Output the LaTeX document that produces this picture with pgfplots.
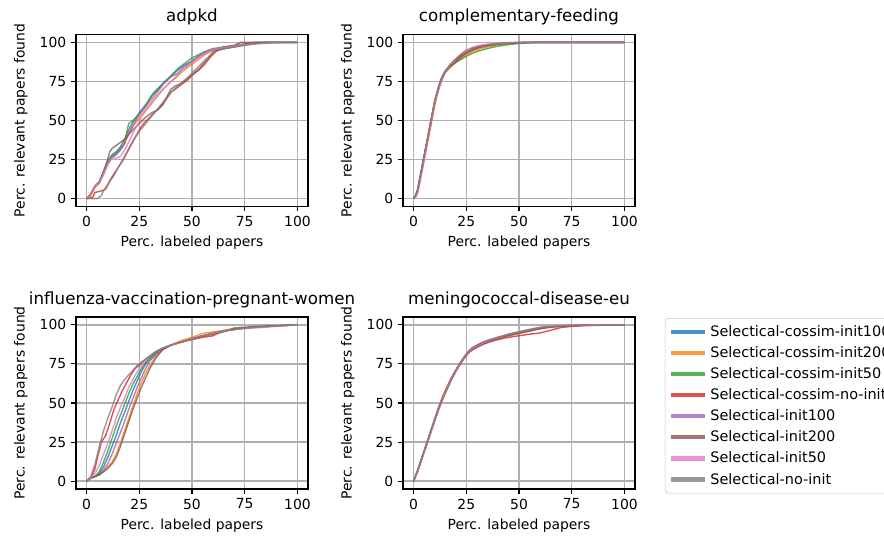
\documentclass[border=0pt]{standalone}
\usepackage{pgfplots}
\pgfplotsset{compat=1.18}
\usepackage{fontspec}
\setmainfont{DejaVu Sans}
\definecolor{c1}{HTML}{1F77B4}
\definecolor{c2}{HTML}{FF7F0E}
\definecolor{c3}{HTML}{2CA02C}
\definecolor{c4}{HTML}{D62728}
\definecolor{c5}{HTML}{9467BD}
\definecolor{c6}{HTML}{8C564B}
\definecolor{c7}{HTML}{E377C2}
\definecolor{c8}{HTML}{7F7F7F}
\definecolor{gridc}{HTML}{B0B0B0}
\pgfplotsset{
  myax/.style={
    scale only axis, width=167.04pt, height=123.84pt,
    anchor=south west,
    xmin=-5, xmax=105, ymin=-5, ymax=105,
    xtick={0,25,50,75,100}, ytick={0,25,50,75,100},
    tick align=outside, tick pos=left, major tick length=3.5pt,
    tick style={black, line width=0.8pt},
    axis line style={black, line width=1.1pt},
    grid=major, grid style={gridc, line width=1pt},
    /pgf/number format/assume math mode=true,
    ticklabel style={font=\fontsize{10}{12}\selectfont},
    xlabel={Perc. labeled papers}, ylabel={Perc. relevant papers found},
    label style={font=\fontsize{10}{12}\selectfont},
    ylabel style={yshift=2pt},
    title style={font=\fontsize{12}{14}\selectfont, yshift=-3pt},
    every axis plot/.append style={line width=1pt, draw opacity=0.8},
    cycle list={{c1},{c2},{c3},{c4},{c5},{c6},{c7},{c8}},
  }
}
\begin{document}
\begin{tikzpicture}
% ---------------- adpkd
\begin{axis}[myax, at={(54.72pt,241.56pt)}, title={adpkd}]
\addplot coordinates {(0,0)(2,3)(4,8)(6,10)(8,17)(10,24)(12,28)(14,30)(16,33)(18,38)(20,44)(22,49)(25,55)(28,60)(31,66)(34,70)(37,75)(40,78)(43,82)(46,85)(50,88)(53,91)(56,93)(60,95)(65,97)(70,97.5)(75,98.5)(80,99.5)(85,100)(100,100)};
\addplot coordinates {(0,0)(2,2)(4,7)(6,10)(8,15)(10,22)(12,27)(14,29)(16,31)(18,35)(20,41)(22,46)(25,52)(28,57)(31,62)(34,67)(37,71)(40,75)(43,78)(46,82)(50,86)(53,89)(56,92)(60,95)(65,97)(70,98)(75,99)(80,100)(100,100)};
\addplot coordinates {(0,0)(2,3)(4,8)(6,10)(8,17)(10,23)(12,27)(14,29)(16,32)(18,35)(19,42)(20,48)(22,50)(25,54)(28,59)(30,64)(32,68)(35,72)(38,76)(41,80)(44,84)(47,87)(50,90)(53,92)(56,94)(60,96)(65,97)(70,98)(75,99)(80,100)(100,100)};
\addplot coordinates {(0,0)(3,1)(4,4)(7,5)(9,6)(11,11)(13,15)(15,20)(17,24)(19,29)(21,34)(23,39)(25,44)(27,48)(30,52)(33,56)(36,60)(38,64)(40,68)(43,71)(46,74)(48,76)(50,79)(53,82)(56,86)(59,91)(62,95)(66,96)(70,97)(74,98)(77,99.5)};
\addplot coordinates {(0,0)(2,3)(4,8)(6,10)(8,16)(10,22)(12,26)(14,28)(16,31)(18,36)(20,42)(22,47)(25,54)(28,59)(31,64)(34,69)(37,74)(40,78)(43,80)(46,84)(49,87)(52,90)(55,93)(58,95)(62,96)(67,97)(72,98)(78,99)(85,100)(100,100)};
\addplot coordinates {(0,0)(2,3)(4,8)(6,11)(8,17)(10,25)(11,30)(12,32)(14,34)(16,36)(18,38)(20,41)(22,44)(25,48)(28,52)(31,55)(34,57)(36,60)(38,65)(40,70)(42,72)(45,74)(48,77)(51,80)(54,84)(57,89)(60,94)(63,96)(66,97)(70,98)(73,100)(100,100)};
\addplot coordinates {(0,0)(2,3)(4,8)(6,10)(8,16)(10,22)(12,26)(14,26)(16,27)(18,31)(20,36)(22,42)(24,47)(26,52)(28,56)(31,61)(34,66)(37,71)(40,75)(43,79)(46,83)(49,86)(52,89)(55,92)(58,94)(62,96)(67,97)(72,98)(80,99)(90,100)(100,100)};
\addplot coordinates {(0,0)(5,0)(7,2)(8,5)(10,9)(12,14)(14,18)(16,22)(18,27)(20,32)(22,37)(25,43)(28,48)(31,53)(34,58)(37,63)(40,68)(43,72)(46,75)(49,79)(52,83)(55,87)(58,91)(61,94)(65,96)(70,97)(75,98)(80,99)(85,99.5)(95,100)(100,100)};
\end{axis}
% ---------------- complementary-feeding
\begin{axis}[myax, at={(290.16pt,241.56pt)}, title={complementary-feeding}]
\addplot coordinates {(0,0)(1,2)(2,6)(3,13)(4,20)(5,27)(6,34)(7,41)(8,48)(9,55)(10,62)(11,67)(12,72)(13,76)(14,79)(15,81.5)(17,84.5)(19,87.5)(21,89.5)(23,92)(25,93.5)(28,95.5)(31,97)(35,98)(40,99)(45,99.5)(50,99.8)(60,100)(100,100)};
\addplot coordinates {(0,0)(1,1)(2,4)(3,10)(4,17)(5,24)(6,31)(7,38)(8,45)(9,52)(10,59)(11,65)(12,70)(13,74)(14,78)(15,80.5)(17,83.5)(19,86)(21,88)(23,90)(25,92)(28,94)(31,95.5)(35,97)(40,98.3)(45,99)(50,99.6)(60,100)(100,100)};
\addplot coordinates {(0,0)(1,2)(2,6)(3,13)(4,20)(5,27)(6,34)(7,41)(8,48)(9,55)(10,62)(11,67)(12,72)(13,76)(14,79)(15,81)(17,84)(19,86)(21,88)(23,89.5)(25,91)(28,93)(31,94.5)(35,96)(40,97.5)(45,98.5)(50,99.3)(60,100)(100,100)};
\addplot coordinates {(0,0)(1,2)(2,5)(3,12)(4,19)(5,26)(6,33)(7,40)(8,47)(9,54)(10,61)(11,66)(12,71)(13,75)(14,78)(15,81)(17,84)(19,86.5)(21,89)(23,91)(25,93)(28,95)(31,96.5)(35,97.8)(40,98.8)(45,99.4)(50,99.8)(60,100)(100,100)};
\addplot coordinates {(0,0)(1,2)(2,6)(3,13)(4,20)(5,27)(6,34)(7,41)(8,48)(9,55)(10,62)(11,67)(12,72)(13,76)(14,79)(15,81.5)(17,85)(19,88)(21,90.5)(23,93)(25,95)(28,96.5)(31,97.5)(35,98.5)(40,99.3)(45,99.7)(50,99.9)(60,100)(100,100)};
\addplot coordinates {(0,0)(1,2)(2,6)(3,13)(4,20)(5,27)(6,34)(7,41)(8,48)(9,55)(10,62)(11,67)(12,72)(13,76)(14,79)(15,81.5)(17,85)(19,88)(21,90)(23,92)(25,93.5)(28,95.5)(31,97)(35,98)(40,99)(45,99.6)(50,99.9)(60,100)(100,100)};
\addplot coordinates {(0,0)(1,1)(2,4)(3,11)(4,18)(5,25)(6,33)(7,40)(8,47)(9,54)(10,61)(11,66)(12,71)(13,75)(14,78)(15,81)(17,84.5)(19,87.5)(21,90.5)(23,93)(25,95)(28,96.8)(31,98)(35,98.8)(40,99.4)(45,99.8)(50,100)(60,100)(100,100)};
\addplot coordinates {(0,0)(1,2)(2,6)(3,13)(4,20)(5,27)(6,34)(7,41)(8,48)(9,55)(10,62)(11,67)(12,72)(13,76)(14,79)(15,81.5)(17,85)(19,88)(21,90.5)(23,92.5)(25,94)(28,96)(31,97.3)(35,98.3)(40,99.1)(45,99.6)(50,99.9)(60,100)(100,100)};
\end{axis}
% ---------------- influenza
\begin{axis}[myax, at={(54.72pt,38.16pt)}, title={influenza-vaccination-pregnant-women}]
\addplot coordinates {(0,0)(2,2)(4,3)(6,5)(8,9)(10,15)(12,22)(14,29)(16,37)(18,44)(20,51)(22,58)(24,64)(26,70)(28,75)(30,78)(33,82)(36,85)(40,87)(45,89)(50,91)(55,93)(60,94.5)(65,96)(70,97)(75,98)(80,98.5)(90,99.3)(100,100)};
\addplot coordinates {(0,0)(2,2)(4,3)(6,4)(8,6)(10,9)(12,12)(14,17)(16,24)(18,32)(20,40)(22,48)(24,56)(26,63)(28,69)(30,74)(33,80)(36,84)(40,87)(45,90)(50,92)(55,94.5)(60,95.5)(65,96.5)(70,97.5)(75,98)(80,98.5)(90,99.3)(100,100)};
\addplot coordinates {(0,0)(2,2)(4,3)(6,6)(8,12)(10,19)(12,27)(14,35)(16,42)(18,49)(20,56)(22,62)(24,67)(26,72)(28,76)(30,79)(33,82)(36,85)(40,87)(45,89)(50,91)(55,92.5)(60,94)(65,95.5)(70,98)(75,98.5)(80,99)(90,99.5)(100,100)};
\addplot coordinates {(0,0)(2,2)(4,8)(5,14)(7,25)(9,29)(11,37)(13,46)(15,52)(17,58)(19,63)(21,68)(23,72)(25,74)(27,77)(30,80)(33,83)(36,85)(40,87)(45,89)(50,90.5)(55,92)(60,93)(63,95)(68,97)(75,98)(85,99)(100,100)};
\addplot coordinates {(0,0)(2,2)(4,3)(6,4)(8,7)(10,11)(12,17)(14,24)(16,31)(18,38)(20,46)(22,53)(24,60)(26,66)(28,72)(30,77)(33,81)(36,84)(40,87)(45,89)(50,91)(55,93)(60,94.5)(65,96)(70,97)(75,98)(80,98.5)(90,99.3)(100,100)};
\addplot coordinates {(0,0)(2,2)(4,3)(6,4)(8,6)(10,8)(12,11)(14,15)(16,22)(18,30)(20,38)(22,46)(24,53)(26,60)(28,66)(30,72)(33,79)(36,84)(40,87)(45,89)(50,91)(55,93)(60,94.5)(65,96)(70,97)(75,98)(80,98.5)(90,99.3)(100,100)};
\addplot coordinates {(0,0)(2,2)(4,5)(6,10)(8,17)(10,24)(12,32)(14,40)(16,47)(18,53)(20,60)(22,65)(24,70)(26,74)(28,77)(30,80)(33,83)(36,85)(40,87)(45,89)(50,91)(55,93)(60,94.5)(65,96)(70,97)(75,97.5)(80,98)(90,99)(100,100)};
\addplot coordinates {(0,0)(2,3)(4,11)(6,22)(8,32)(10,40)(12,47)(14,55)(16,61)(18,65)(20,68)(22,71)(24,74)(26,76)(28,78)(30,80)(33,83)(36,85)(40,87)(45,89)(50,91)(55,93)(60,94.5)(65,96)(70,97)(75,98)(80,98.5)(90,99.3)(100,100)};
\end{axis}
% ---------------- meningococcal
\begin{axis}[myax, at={(290.16pt,38.16pt)}, title={meningococcal-disease-eu},
  legend style={at={(1.129,0.994)}, anchor=north west, draw=gridc!70, rounded corners=2pt,
    font=\fontsize{10.4}{12}\selectfont, row sep=1.8pt, inner xsep=3pt, inner ysep=3pt},
  legend cell align=left,
  legend image code/.code={\draw[line width=3pt] (0pt,0pt) -- (24.5pt,0pt);},
  legend entries={Selectical-cossim-init100,Selectical-cossim-init200,Selectical-cossim-init50,Selectical-cossim-no-init,Selectical-init100,Selectical-init200,Selectical-init50,Selectical-no-init}]
\addplot coordinates {(0,0)(2,7)(4,15)(6,23)(8,31)(10,39)(12,47)(14,54)(16,60)(18,66)(20,70.5)(22,75)(24,79)(26,82.5)(28,85)(30,86.5)(33,88.5)(36,90)(40,91.5)(45,93.5)(50,95)(55,96.5)(60,98)(65,98.7)(70,99.2)(75,99.6)(85,99.9)(100,100)};
\addplot coordinates {(0,0)(2,7)(4,15.5)(6,23.5)(8,32)(10,40)(12,48)(14,55)(16,61)(18,66)(20,70.5)(22,75)(24,79)(26,82.5)(28,85)(30,86.5)(33,88)(36,89.5)(40,91.5)(45,93)(50,94.5)(55,96)(60,97.5)(65,98.5)(70,99)(75,99.5)(85,99.9)(100,100)};
\addplot coordinates {(0,0)(2,7)(4,15)(6,23)(8,31)(10,39)(12,47)(14,54)(16,60)(18,66)(20,70.5)(22,75)(24,79)(26,82)(28,84.5)(30,86.5)(33,88.5)(36,90)(40,91.5)(45,93.5)(50,95)(55,96.5)(60,97.8)(65,98.7)(70,99.2)(75,99.6)(85,99.9)(100,100)};
\addplot coordinates {(0,0)(2,6.5)(4,14.5)(6,22.5)(8,30.5)(10,38.5)(12,46)(14,53)(16,59)(18,65)(20,70)(22,74.5)(24,78.5)(26,82)(28,84)(30,85.5)(33,87.5)(36,89)(40,90.5)(45,92)(50,93)(55,94)(60,94.8)(65,96.5)(70,98.3)(75,99)(85,99.6)(100,100)};
\addplot coordinates {(0,0)(2,7)(4,15)(6,23)(8,31)(10,39)(12,47)(14,54)(16,60)(18,66)(20,71)(22,75.5)(24,79.5)(26,83)(28,85.5)(30,87)(33,89)(36,90.5)(40,92)(45,94)(50,95.5)(55,97)(60,98.3)(65,99)(70,99.4)(75,99.7)(85,99.9)(100,100)};
\addplot coordinates {(0,0)(2,7)(4,15)(6,23)(8,31)(10,39)(12,47)(14,54)(16,60)(18,66)(20,70.5)(22,75)(24,79)(26,82.5)(28,84.5)(30,86)(33,88)(36,89.5)(40,91.5)(45,93)(50,94.5)(55,96)(60,97.5)(65,98.5)(70,99)(75,99.5)(85,99.9)(100,100)};
\addplot coordinates {(0,0)(2,6.5)(4,14.5)(6,22.5)(8,30.5)(10,38.5)(12,46.5)(14,53.5)(16,60)(18,66)(20,70.5)(22,75)(24,79)(26,82.5)(28,85)(30,86.5)(33,88.5)(36,90)(40,92)(45,94)(50,95.5)(55,97)(60,98.5)(65,99.2)(70,99.5)(75,99.7)(85,99.9)(100,100)};
\addplot coordinates {(0,0)(2,7)(4,15)(6,23)(8,31)(10,39)(12,47)(14,54)(16,60)(18,66)(20,71)(22,75.5)(24,79.5)(26,83)(28,85.5)(30,87)(33,89)(36,90.5)(40,92)(45,94)(50,95.5)(55,97)(60,98.3)(65,99)(70,99.4)(75,99.7)(85,99.9)(100,100)};
\end{axis}
\pgfresetboundingbox
\useasboundingbox (0pt,0pt) rectangle (636.48pt,390.24pt);
\end{tikzpicture}
\end{document}
